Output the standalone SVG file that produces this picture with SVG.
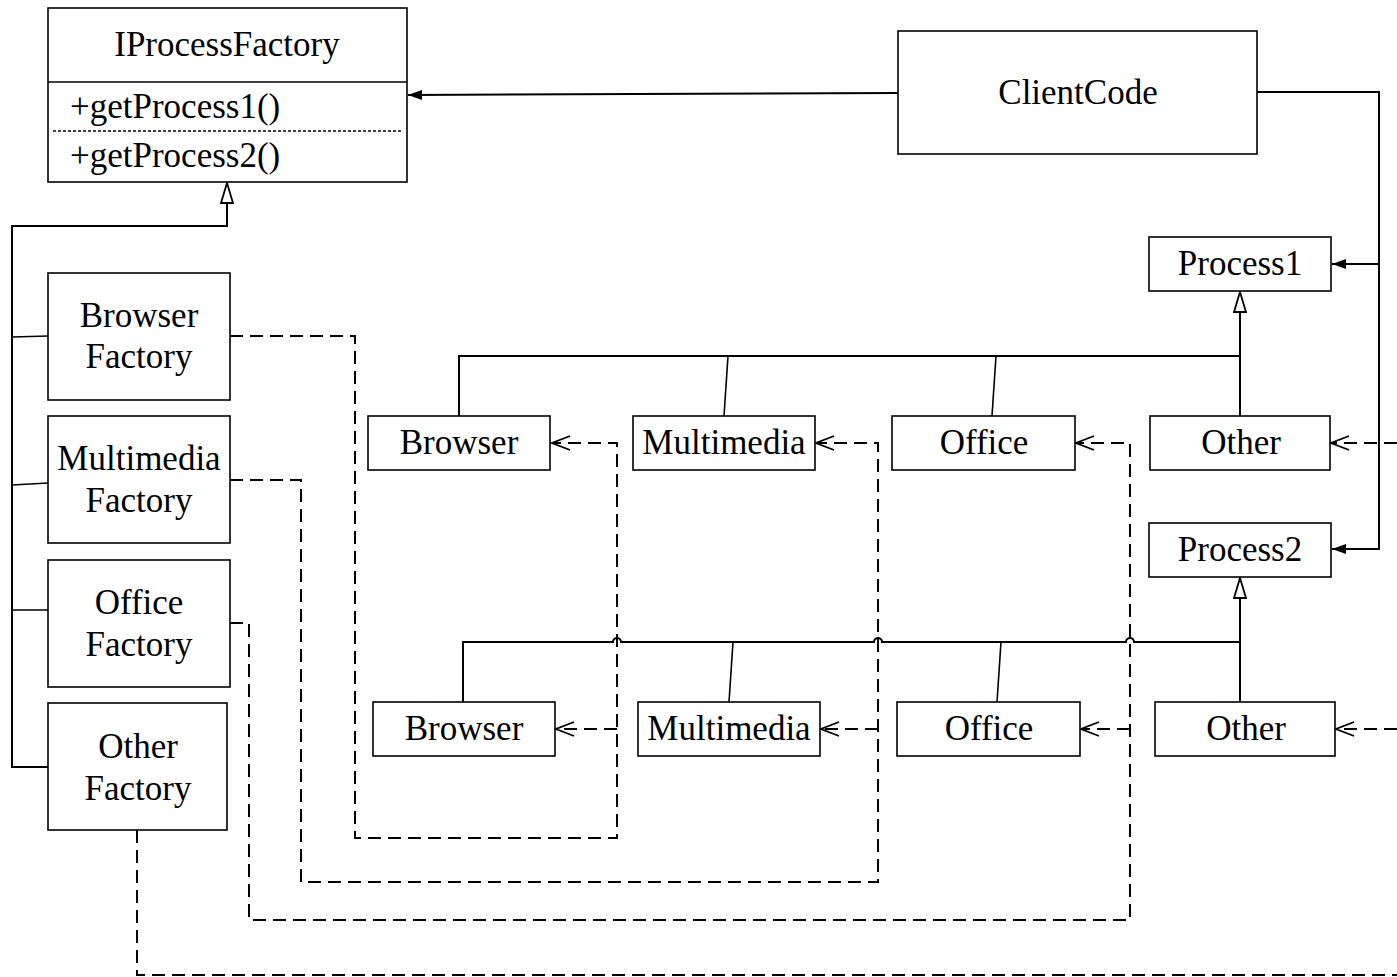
<svg xmlns="http://www.w3.org/2000/svg" width="1397" height="977" viewBox="0 0 1397 977">
<style>
.box{fill:#fff;stroke:#000;stroke-width:1.6}
.t{font-family:"Liberation Serif","Times New Roman",serif;font-size:35px;fill:#000;text-anchor:middle}
.tl{font-family:"Liberation Serif","Times New Roman",serif;font-size:35px;fill:#000}
.ln{fill:none;stroke:#000;stroke-width:2}
.thin{fill:none;stroke:#000;stroke-width:1.6}
.dash{fill:none;stroke:#000;stroke-width:2;stroke-dasharray:13 7}
</style>
<defs>
<marker id="filled" viewBox="0 0 14 10" refX="14" refY="5" markerWidth="14" markerHeight="10" markerUnits="userSpaceOnUse" orient="auto">
<path d="M0,0 L14,5 L0,10 z" fill="#000"/>
</marker>
<marker id="hollow" viewBox="-2 -2 24 16" refX="20" refY="6" markerWidth="24" markerHeight="16" markerUnits="userSpaceOnUse" orient="auto">
<path d="M0,0 L20,6 L0,12 z" fill="#fff" stroke="#000" stroke-width="1.8"/>
</marker>
<marker id="open" viewBox="-2 -2 22 18" refX="18" refY="7" markerWidth="22" markerHeight="18" markerUnits="userSpaceOnUse" orient="auto">
<path d="M0,0 L18,7 L0,14" fill="none" stroke="#000" stroke-width="1.8"/>
</marker>
</defs>

<g id="connectors">
<path class="ln" d="M898,93 L408,95" marker-end="url(#filled)"/>
<path class="ln" d="M1257,92 H1379 V549 H1332" marker-end="url(#filled)"/>
<path class="ln" d="M1379,264 H1332" marker-end="url(#filled)"/>

<path class="ln" d="M48,767 H12 V226 H227 V183" marker-end="url(#hollow)"/>
<path class="thin" d="M12,337 L48,336 M12,485 L48,483 M12,610 H48"/>

<path class="ln" d="M459,416 V356 H1240"/>
<path class="ln" d="M1240,416 V292" marker-end="url(#hollow)"/>
<path class="thin" d="M728,356 L724,416 M996,356 L992,416"/>

<path class="ln" d="M463,702 V642 H613 a4,4 0 0 1 8,0 H874 a4,4 0 0 1 8,0 H1126 a4,4 0 0 1 8,0 H1240"/>
<path class="ln" d="M1240,702 V578" marker-end="url(#hollow)"/>
<path class="thin" d="M733,642 L729,702 M1001,642 L997,702"/>

<path class="dash" d="M230,336 H355 V838 H617 V443 H552" marker-end="url(#open)"/>
<path class="dash" d="M617,729 H556" marker-end="url(#open)"/>
<path class="dash" d="M230,480 H301 V882 H878 V443 H816" marker-end="url(#open)"/>
<path class="dash" d="M878,729 H821" marker-end="url(#open)"/>
<path class="dash" d="M230,623 H249 V920 H1130 V443 H1076" marker-end="url(#open)"/>
<path class="dash" d="M1130,729 H1081" marker-end="url(#open)"/>
<path class="dash" d="M137,830 V975 H1397"/>
<path class="dash" d="M1397,443 H1331" marker-end="url(#open)"/>
<path class="dash" d="M1397,729 H1336" marker-end="url(#open)"/>
</g>

<g id="IProcessFactory">
<rect class="box" x="48" y="8" width="359" height="174"/>
<line class="thin" x1="48" y1="82" x2="407" y2="82"/>
<line x1="53" y1="131" x2="401" y2="131" stroke="#000" stroke-width="1.3" stroke-dasharray="3 2"/>
<text class="t" x="227" y="56">IProcessFactory</text>
<text class="tl" x="70" y="118">+getProcess1()</text>
<text class="tl" x="70" y="167">+getProcess2()</text>
</g>

<g id="ClientCode">
<rect class="box" x="898" y="31" width="359" height="123"/>
<text class="t" x="1078" y="104">ClientCode</text>
</g>

<g id="Process1">
<rect class="box" x="1149" y="237" width="182" height="54"/>
<text class="t" x="1240" y="275">Process1</text>
</g>
<g id="Process2">
<rect class="box" x="1149" y="523" width="182" height="54"/>
<text class="t" x="1240" y="561">Process2</text>
</g>

<g id="Browser1">
<rect class="box" x="368" y="416" width="182" height="54"/>
<text class="t" x="459" y="454">Browser</text>
</g>
<g id="Multimedia1">
<rect class="box" x="633" y="416" width="182" height="54"/>
<text class="t" x="724" y="454">Multimedia</text>
</g>
<g id="Office1">
<rect class="box" x="892" y="416" width="183" height="54"/>
<text class="t" x="984" y="454">Office</text>
</g>
<g id="Other1">
<rect class="box" x="1150" y="416" width="180" height="54"/>
<text class="t" x="1241" y="454">Other</text>
</g>

<g id="Browser2">
<rect class="box" x="373" y="702" width="182" height="54"/>
<text class="t" x="464" y="740">Browser</text>
</g>
<g id="Multimedia2">
<rect class="box" x="638" y="702" width="182" height="54"/>
<text class="t" x="729" y="740">Multimedia</text>
</g>
<g id="Office2">
<rect class="box" x="897" y="702" width="183" height="54"/>
<text class="t" x="989" y="740">Office</text>
</g>
<g id="Other2">
<rect class="box" x="1155" y="702" width="180" height="54"/>
<text class="t" x="1246" y="740">Other</text>
</g>

<g id="BrowserFactory">
<rect class="box" x="48" y="273" width="182" height="127"/>
<text class="t" x="139" y="327">Browser</text>
<text class="t" x="139" y="368">Factory</text>
</g>
<g id="MultimediaFactory">
<rect class="box" x="48" y="416" width="182" height="127"/>
<text class="t" x="139" y="470">Multimedia</text>
<text class="t" x="139" y="512">Factory</text>
</g>
<g id="OfficeFactory">
<rect class="box" x="48" y="560" width="182" height="127"/>
<text class="t" x="139" y="614">Office</text>
<text class="t" x="139" y="656">Factory</text>
</g>
<g id="OtherFactory">
<rect class="box" x="48" y="703" width="179" height="127"/>
<text class="t" x="138" y="758">Other</text>
<text class="t" x="138" y="800">Factory</text>
</g>
</svg>
